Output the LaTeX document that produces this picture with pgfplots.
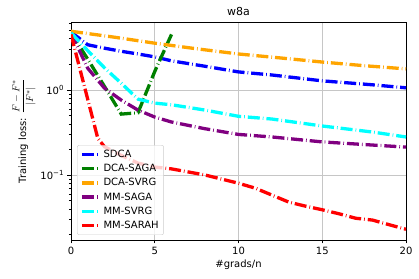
\documentclass[border=0pt]{standalone}
\usepackage{fontspec}
\setmainfont{DejaVu Sans}
\usepackage{pgfplots}
\pgfplotsset{compat=1.18}
\definecolor{mplorange}{RGB}{255,165,0}
\definecolor{mplgreen}{RGB}{0,128,0}
\definecolor{mplpurple}{RGB}{128,0,128}
\definecolor{mplcyan}{RGB}{0,255,255}
\definecolor{mplblue}{RGB}{0,0,255}
\definecolor{mplred}{RGB}{255,0,0}
\begin{document}
\begin{tikzpicture}
\begin{axis}[
  scale only axis, width=335pt, height=218pt,
  xmin=0, xmax=20, ymode=log, ymin=0.0172, ymax=6.3,
  xtick={0,5,10,15,20},
  ytick={0.1,1}, yticklabels={10\textsuperscript{−1},10\textsuperscript{0}},
  minor ytick={0.02,0.03,0.04,0.05,0.06,0.07,0.08,0.09,0.2,0.3,0.4,0.5,0.6,0.7,0.8,0.9,2,3,4,5,6},
  grid=major, grid style={gray!45, line width=0.6pt},
  tick align=outside, tick pos=left,
  major tick length=3.5pt, minor tick length=2pt,
  every tick/.style={black, line width=0.6pt},
  axis line style={line width=0.7pt},
  /pgf/number format/assume math mode=true,
  font=\fontsize{10}{12}\selectfont,
  tick label style={font=\fontsize{10}{12}\selectfont},
  title={w8a}, title style={font=\fontsize{11}{13}\selectfont, yshift=-3pt},
  xlabel={\#grads/n}, ylabel={Training loss: $\displaystyle\frac{F-F^*}{|F^*|}$},
  xlabel style={yshift=2pt},
  ylabel style={yshift=-2pt},
  every axis plot/.append style={line width=3.3pt, dash pattern=on 12pt off 3pt on 0.7pt off 3pt},
  legend style={at={(0.018,0.023)}, anchor=south west, draw=gray!40, rounded corners=2pt,
     fill=white, fill opacity=0.8, text opacity=1, font=\fontsize{10}{11}\selectfont,
     row sep=1.2pt, inner sep=3pt},
  legend cell align=left,
  legend image code/.code={\draw[#1] (0pt,0pt) -- (18pt,0pt);},
]
\addplot[mplblue] coordinates {(0,4.8) (1,3.4) (2,3.1) (3,2.85) (4,2.65) (5,2.45) (6,2.2) (8,1.9) (10,1.63) (12,1.5) (15,1.28) (18,1.15) (20,1.06)};
\addlegendentry{SDCA}
\addplot[mplgreen] coordinates {(0,4.7) (1,2.3) (2,1.1) (3,0.52) (4,0.54) (5,1.65) (6,4.5)};
\addlegendentry{DCA-SAGA}
\addplot[mplorange] coordinates {(0,4.9) (2.5,4.2) (5,3.55) (7.5,3.05) (10,2.65) (12.5,2.38) (15,2.13) (17.5,1.93) (20,1.77)};
\addlegendentry{DCA-SVRG}
\addplot[mplpurple] coordinates {(0,4.7) (1,1.8) (2,1.05) (3,0.76) (4,0.58) (5,0.48) (6,0.42) (8,0.35) (10,0.30) (12,0.28) (15,0.245) (18,0.225) (20,0.213)};
\addlegendentry{MM-SAGA}
\addplot[mplcyan] coordinates {(0,4.7) (1,2.9) (2,1.82) (3,1.2) (4,0.78) (5,0.70) (6,0.67) (8,0.58) (10,0.49) (12,0.455) (15,0.377) (18,0.32) (20,0.28)};
\addlegendentry{MM-SVRG}
\addplot[mplred] coordinates {(0,4.5) (1.6,0.27) (2,0.215) (3,0.17) (4,0.138) (5,0.124) (6,0.118) (8,0.1) (10,0.08) (11,0.07) (12,0.058) (13,0.048) (14,0.043) (15,0.039) (16,0.035) (17,0.031) (18,0.0295) (19,0.026) (20,0.023)};
\addlegendentry{MM-SARAH}
\end{axis}
\path ([xshift=-71pt,yshift=-38pt]current axis.south west) rectangle ([xshift=13pt,yshift=22pt]current axis.north east);
\end{tikzpicture}
\end{document}
